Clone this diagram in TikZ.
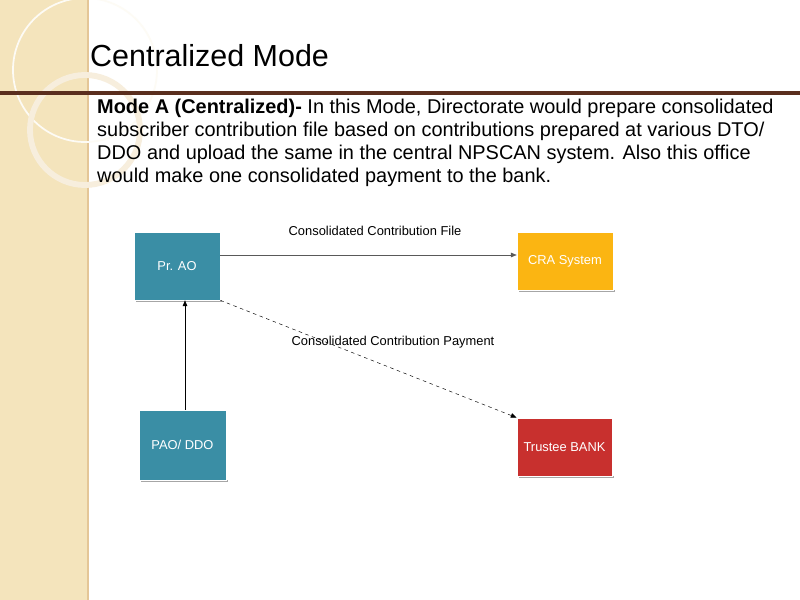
\documentclass[tikz,border=0pt]{standalone}
\usepackage{fontspec}
\setmainfont{Liberation Sans}
\usetikzlibrary{arrows.meta}
\definecolor{sidebeige}{HTML}{F4E4BC}
\definecolor{rulebrown}{HTML}{5A2E1E}
\definecolor{teal}{HTML}{3A8EA5}
\definecolor{craorange}{HTML}{FBB512}
\definecolor{bankred}{HTML}{C8302E}
\tikzset{
    unit/.style={draw=white, line width=0.6pt, text=white, font=\fontsize{11}{13}\selectfont,
        minimum width=26mm, minimum height=19mm, inner sep=0pt},
    flowlabel/.style={font=\fontsize{11}{13}\selectfont},
    shadowline/.style={gray!70, line width=2.5pt}
}
\begin{document}
\begin{tikzpicture}[x=0.3mm, y=-0.3mm]
    \useasboundingbox (0,0) rectangle (800,600);
    \fill[white] (0,0) rectangle (800,600);

    % Side strip
    \fill[sidebeige] (0,0) rectangle (88,600);
    \draw[sidebeige!70!brown, line width=1pt] (88,0) -- (88,600);
    \draw[white!85!sidebeige, line width=1.5pt] (85,70) circle (72);
    \draw[sidebeige!85!brown!40, line width=5pt] (85,130) circle (55);

    % Title and rule
    \node[anchor=base west, inner sep=0pt, font=\fontsize{26}{30}\selectfont] (title) at (90,67) {Centralized Mode};
    \draw[rulebrown, line width=3.5pt] (0,93) -- (800,93);

    % Paragraph
    \node[anchor=north west, align=left, inner sep=0pt, font=\fontsize{17}{19.6}\selectfont] (para) at (97,99)
    {\textbf{Mode A (Centralized)-} In this Mode, Directorate would prepare consolidated\\
     subscriber contribution file based on contributions prepared at various DTO/\\
     DDO and upload the same in the central NPSCAN system. Also this office\\
     would make one consolidated payment to the bank.};

    % Shadows
    \draw[shadowline] (136,301) -- (222,301);
    \draw[shadowline] (519,291) -- (615,291);
    \draw[shadowline] (141,481) -- (228,481);
    \draw[shadowline] (519,477) -- (614,477);

    % Boxes
    \node[unit, fill=teal, minimum width=25.8mm, minimum height=20.4mm] (prao) at (177,266) {Pr. AO};
    \node[unit, fill=craorange, minimum width=28.8mm, minimum height=17.4mm] (cra) at (565,261) {CRA System};
    \node[unit, fill=teal, minimum width=26.1mm, minimum height=21mm] (pao) at (182.5,445) {PAO/ DDO};
    \node[unit, fill=bankred, minimum width=28.5mm, minimum height=17.4mm] (bank) at (564.5,447) {Trustee BANK};

    % Connectors
    \draw[-{Triangle[length=5pt,width=4pt]}, gray!70!black] (prao.east |- 0,255) -- (cra.west |- 0,255);
    \draw[-{Triangle[length=5pt,width=4pt]}, dashed] (prao.south east) -- (bank.north west);
    \draw[-{Triangle[length=5pt,width=4pt]}] (pao.north -| 185,0) -- (prao.south -| 185,0);

    % Labels
    \node[flowlabel] (filelbl) at (375,231) {Consolidated Contribution File};
    \node[flowlabel] (paylbl) at (393,342) {Consolidated Contribution Payment};
\end{tikzpicture}
\end{document}
